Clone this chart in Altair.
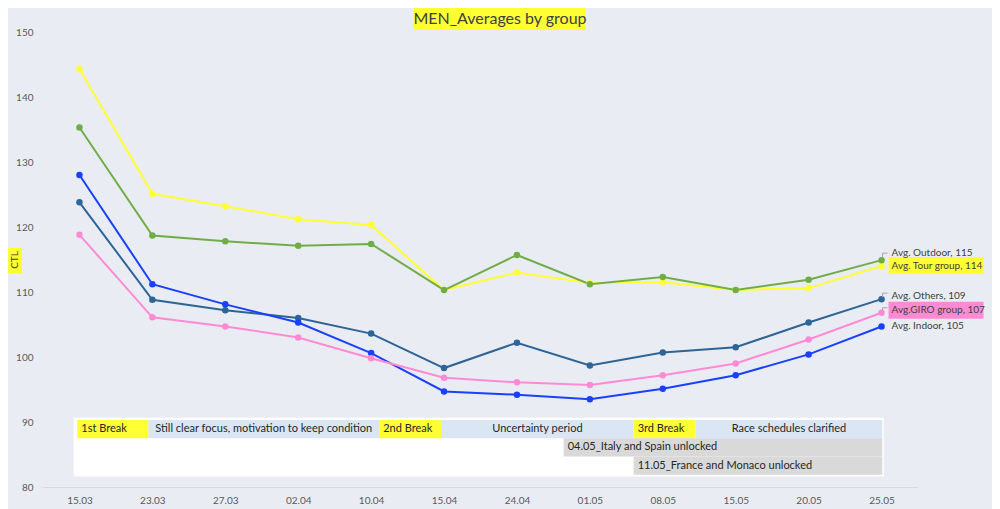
import json
import altair as alt
import pandas as pd

# ---------------- data ----------------
dates = ["15.03", "23.03", "27.03", "02.04", "10.04", "15.04",
         "24.04", "01.05", "08.05", "15.05", "20.05", "25.05"]

series_names = ["Avg. Tour group", "Avg. Outdoor", "Avg. Others", "Avg. Indoor", "Avg.GIRO group"]
tour    = [144.3, 125.1, 123.2, 121.2, 120.3, 110.3, 113.0, 111.4, 111.5, 110.3, 110.6, 114.0]
outdoor = [135.3, 118.7, 117.8, 117.1, 117.4, 110.3, 115.7, 111.2, 112.3, 110.3, 111.9, 114.9]
others  = [123.8, 108.8, 107.2, 106.0, 103.6, 98.3, 102.2, 98.7, 100.7, 101.5, 105.3, 108.9]
indoor  = [128.0, 111.2, 108.1, 105.3, 100.6, 94.7, 94.2, 93.5, 95.1, 97.2, 100.4, 104.7]
giro    = [118.8, 106.1, 104.7, 103.0, 99.8, 96.8, 96.1, 95.7, 97.2, 99.0, 102.7, 106.8]

end_labels = ["Avg. Tour group, 114", "Avg. Outdoor, 115", "Avg. Others, 109",
              "Avg. Indoor, 105", "Avg.GIRO group, 107"]

# timeline table (positions in date-index units)
phase_labels = ["1st Break", "Still clear focus, motivation to keep condition", "2nd Break",
                "Uncertainty period", "3rd Break", "Race schedules clarified"]
phase_kind = ["break", "phase", "break", "phase", "break", "phase"]
phase_start = [-0.03, 0.945, 4.11, 4.96, 7.60, 8.45]
phase_end = [0.945, 4.11, 4.96, 7.60, 8.45, 11.01]

unlock_labels = ["04.05_Italy and Spain unlocked", "11.05_France and Monaco unlocked"]
unlock_start = [6.64, 7.60]
unlock_end = [11.01, 11.01]

title_text = "MEN_Averages by group"
y_title = "CTL"
y_ticks = [80, 90, 100, 110, 120, 130, 140, 150]

# ---------------- styles ----------------
series_colors = ["#FFFF33", "#70AD47", "#2E6496", "#1A40FF", "#FF8AD4"]
kind_colors = {"break": "#FFFF33", "phase": "#DAE6F4", "unlock": "#D9D9D9"}
FONT = "Lato"
BG = "#E9EDF3"
TXT = "#404040"

# label offsets (pixels) relative to last point
label_style = {
    "Avg. Tour group": dict(dy=0, bg="#FFFF33", top=-9, bottom=8),
    "Avg. Outdoor": dict(dy=-7, lead=(-3, -7)),
    "Avg. Others": dict(dy=-3, lead=(-2, -6)),
    "Avg. Indoor": dict(dy=0),
    "Avg.GIRO group": dict(dy=-3, bg="#FF8AD4", top=-11, bottom=6, lead=(-2, -5)),
}

TABLE_TOP = 90.3
ROW_H = 2.8

# ---------------- frames ----------------
rows = []
for name, vals in zip(series_names, [tour, outdoor, others, indoor, giro]):
    for i, (d, v) in enumerate(zip(dates, vals)):
        rows.append({"series": name, "idx": i, "date": d, "value": v})
df = pd.DataFrame(rows)
last = df[df["idx"] == len(dates) - 1].copy()
last["label"] = end_labels

cells = []
for lab, k, s, e in zip(phase_labels, phase_kind, phase_start, phase_end):
    cells.append({"label": lab, "kind": k, "start": s, "end": e, "row": 0})
for j, (lab, s, e) in enumerate(zip(unlock_labels, unlock_start, unlock_end)):
    cells.append({"label": lab, "kind": "unlock", "start": s, "end": e, "row": j + 1})
cells = pd.DataFrame(cells)
cells["top"] = TABLE_TOP - cells["row"] * ROW_H
cells["bottom"] = cells["top"] - ROW_H
cells["mid"] = cells["top"] - ROW_H / 2
cells["center"] = (cells["start"] + cells["end"]) / 2
cells["align"] = ["left" if k != "phase" else "center" for k in cells["kind"]]

box = pd.DataFrame([{"x0": min(phase_start) - 0.05, "x1": max(phase_end) + 0.02,
                     "y0": TABLE_TOP + 0.35, "y1": TABLE_TOP - 3 * ROW_H - 0.3}])

xs = alt.Scale(domain=[-0.5, 11.5], nice=False, zero=False)
ys = alt.Scale(domain=[80, 150], nice=False, zero=False)
cs = alt.Scale(domain=series_names, range=series_colors)

x_axis = alt.Axis(values=list(range(len(dates))), labelExpr=f"{json.dumps(dates)}[datum.value]",
                  grid=False, ticks=False, domainColor="#D9D9D9", labelColor="#595959",
                  labelFontSize=10, labelPadding=13, title=None, labelFont=FONT, labelBaseline="middle")
y_axis = alt.Axis(values=y_ticks, grid=False, ticks=False, domain=False, labelColor="#595959",
                  labelFontSize=10, labelPadding=10, title=None, labelFont=FONT)

base = alt.Chart(df)

lines = base.mark_line(strokeWidth=2).encode(
    x=alt.X("idx:Q", scale=xs, axis=x_axis),
    y=alt.Y("value:Q", scale=ys, axis=y_axis),
    color=alt.Color("series:N", scale=cs, legend=None),
    detail="series:N",
)
points = base.mark_point(filled=True, size=42, opacity=1).encode(
    x=alt.X("idx:Q", scale=xs),
    y=alt.Y("value:Q", scale=ys),
    color=alt.Color("series:N", scale=cs, legend=None),
)
series_layer = alt.layer(lines, points)

table_box = alt.Chart(box).mark_rect(color="white").encode(
    x=alt.X("x0:Q", scale=xs), x2="x1", y=alt.Y("y0:Q", scale=ys), y2="y1")
table_cells = alt.Chart(cells).mark_rect().encode(
    x=alt.X("start:Q", scale=xs), x2="end",
    y=alt.Y("top:Q", scale=ys), y2="bottom",
    fill=alt.Fill("kind:N", scale=alt.Scale(domain=list(kind_colors), range=list(kind_colors.values())),
                  legend=None),
)
left_text = alt.Chart(cells).transform_filter("datum.align == 'left'").mark_text(
    align="left", baseline="middle", dx=4, font=FONT, fontSize=11, color="#262626").encode(
    x=alt.X("start:Q", scale=xs), y=alt.Y("mid:Q", scale=ys), text="label:N")
center_text = alt.Chart(cells).transform_filter("datum.align == 'center'").mark_text(
    align="center", baseline="middle", font=FONT, fontSize=11, color="#262626").encode(
    x=alt.X("center:Q", scale=xs), y=alt.Y("mid:Q", scale=ys), text="label:N")

label_layers = []
for name in series_names:
    st = label_style[name]
    sub = alt.Chart(last[last["series"] == name])
    enc_pt = dict(x=alt.X("idx:Q", scale=xs), x2="idx", y=alt.Y("value:Q", scale=ys), y2="value")
    if "bg" in st:
        label_layers.append(sub.mark_rect(color=st["bg"], xOffset=7, x2Offset=102,
                                          yOffset=st["top"], y2Offset=st["bottom"]).encode(**enc_pt))
    if "lead" in st:
        a, b = st["lead"]
        label_layers.append(sub.mark_rule(color="#A6A6A6", strokeWidth=1, xOffset=1, x2Offset=1,
                                          yOffset=a, y2Offset=b).encode(**enc_pt))
        label_layers.append(sub.mark_rule(color="#A6A6A6", strokeWidth=1, xOffset=1, x2Offset=6,
                                          yOffset=b, y2Offset=b).encode(**enc_pt))
    label_layers.append(sub.mark_text(align="left", baseline="middle", dx=10, dy=st["dy"],
                                      font=FONT, fontSize=10, color=TXT).encode(
        x=alt.X("idx:Q", scale=xs), y=alt.Y("value:Q", scale=ys), text="label:N"))

tdf = pd.DataFrame([{"t": title_text}])
title_bg = alt.Chart(tdf).mark_rect(color="#FFFF33").encode(
    x=alt.value(371), x2=alt.value(542), y=alt.value(-24), y2=alt.value(-2))
title_tx = alt.Chart(tdf).mark_text(font=FONT, fontSize=16, color=TXT, baseline="middle").encode(
    x=alt.value(457), y=alt.value(-13), text="t:N")

ydf = pd.DataFrame([{"t": y_title}])
ytitle_bg = alt.Chart(ydf).mark_rect(color="#FFFF33").encode(
    x=alt.value(-35), x2=alt.value(-21), y=alt.value(216), y2=alt.value(241))
ytitle_tx = alt.Chart(ydf).mark_text(font=FONT, fontSize=10, color=TXT, angle=270, baseline="middle").encode(
    x=alt.value(-28), y=alt.value(228), text="t:N")

chart = alt.layer(
    table_box, table_cells, left_text, center_text, series_layer,
    *label_layers, title_bg, title_tx, ytitle_bg, ytitle_tx,
).resolve_scale(color="independent", fill="independent").properties(
    width=875, height=455,
    padding={"left": 35, "top": 24, "right": 74, "bottom": 22},
    autosize=alt.AutoSizeParams(type="none"),
    background=BG,
).configure_view(stroke=None)

chart.save("out.html", embed_options={"renderer": "svg", "actions": False})
